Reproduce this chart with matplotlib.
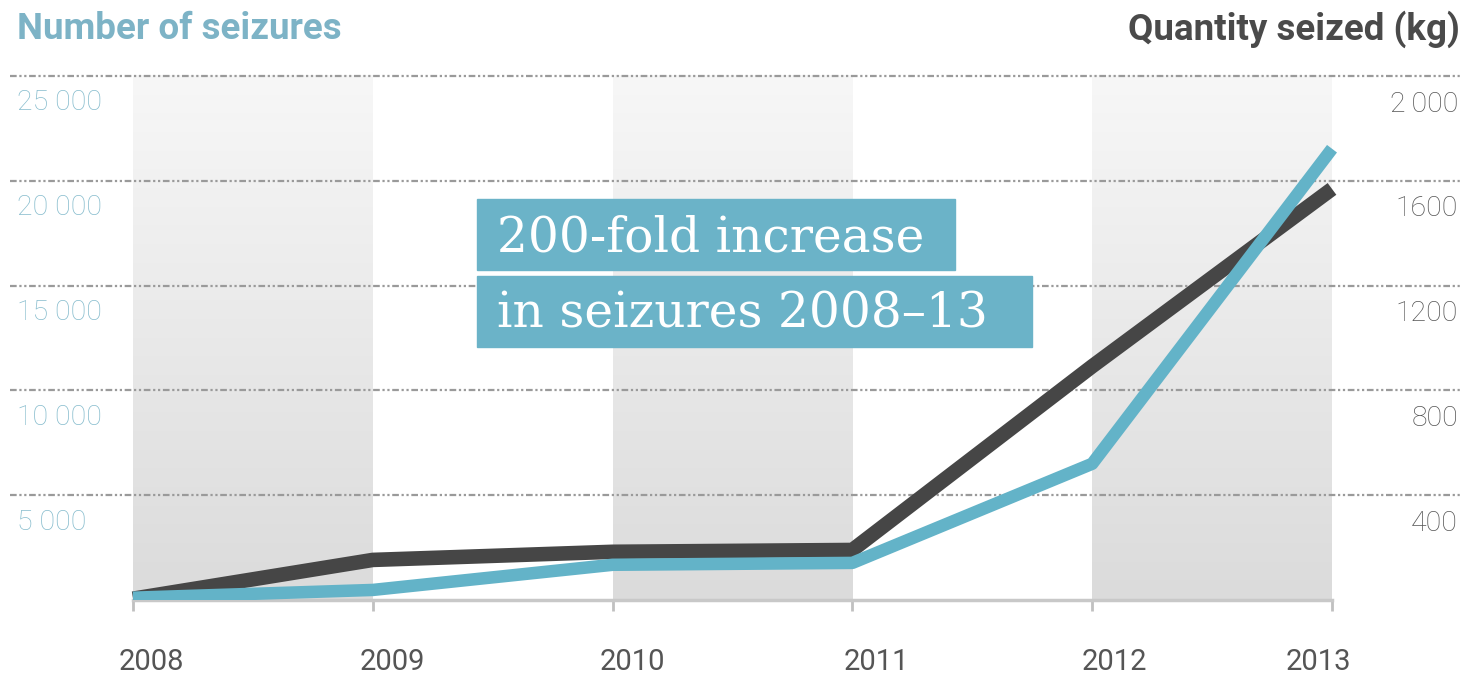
import matplotlib.pyplot as plt
import matplotlib.transforms as mtransforms
from matplotlib.patches import Rectangle
from matplotlib.colors import LinearSegmentedColormap
import numpy as np

# data
years = [2008, 2009, 2010, 2011, 2012, 2013]
seizures = [110, 480, 1680, 1770, 6500, 21530]          # number of seizures (left axis)
quantity_kg = [5, 153, 184, 191, 892, 1569]             # quantity seized in kg (right axis)
left_ticks = [5000, 10000, 15000, 20000, 25000]
left_labels = ['5 000', '10 000', '15 000', '20 000', '25 000']
right_ticks = [400, 800, 1200, 1600, 2000]
right_labels = ['400', '800', '1200', '1600', '2\u2009000']
band_starts = [2008, 2010, 2012]

W, H = 1468, 677
blue = '#63b3c8'
dark = '#464646'
label_blue = '#86bccd'

fig = plt.figure(figsize=(W / 100, H / 100), dpi=100)
fig.patch.set_facecolor('white')

# axes spans full width so the dotted gridlines run edge to edge
ax = fig.add_axes([10 / W, 1 - 600 / H, 1452 / W, 530 / H])
xlim = (2008 - 123 / 239.8, 2013 + 130 / 239.8)
ylim = (0, 25000 * 530 / 524)
ax2 = ax.twinx()

# shaded gradient bands
grad = np.linspace(0, 1, 256).reshape(-1, 1)
cmap = LinearSegmentedColormap.from_list('band', ['#dbdbdb', '#f7f7f7'])
for b in band_starts:
    ax.imshow(grad, extent=(b, b + 1, 0, 25000), origin='lower', cmap=cmap,
              aspect='auto', zorder=0, interpolation='bilinear')
ax.set_xlim(xlim)
ax.set_ylim(ylim)
ax2.set_ylim(ylim[0] * 0.08, ylim[1] * 0.08)

# dotted gridlines
for t in left_ticks:
    ax.axhline(t, color='#9a9a9a', lw=1.6, dashes=(3, 1.2, 1, 1.2, 1, 1.2), zorder=1)

# lines
ax2.plot(years, quantity_kg, color=dark, lw=10.5, solid_capstyle='butt',
         solid_joinstyle='round', zorder=3)
ax2.plot(years, seizures, color=blue, lw=9, solid_capstyle='butt',
         solid_joinstyle='round', zorder=4, transform=ax.transData)

# axes styling
for a in (ax, ax2):
    for s in a.spines.values():
        s.set_visible(False)
    a.set_yticks([])
ax.spines['bottom'].set_visible(True)
ax.spines['bottom'].set_bounds(2008, 2013)
ax.spines['bottom'].set_color('#c8c8c8')
ax.spines['bottom'].set_linewidth(2.5)
ax.set_xticks(years)
ax.set_xticklabels([])
ax.tick_params(axis='x', length=8, width=2, color='#c0c0c0', direction='out')

# y tick labels sit just below their gridlines
ly = mtransforms.offset_copy(ax.get_yaxis_transform(), fig=fig, y=-27, units='dots')
for t, lab in zip(left_ticks, left_labels):
    ax.text(7 / 1452, t, lab, transform=ly, ha='left', va='center',
            fontsize=20.5, color=label_blue, family='Roboto', weight='light')
ry = mtransforms.offset_copy(ax2.get_yaxis_transform(), fig=fig, y=-28, units='dots')
for t, lab in zip(right_ticks, right_labels):
    ax2.text(1448 / 1452, t, lab, transform=ry, ha='right', va='center',
             fontsize=20.5, color='#555555', family='Roboto', weight='light')

# year labels
x_offsets = [18, 20, 20, 24, 22, -14]
for y, dx in zip(years, x_offsets):
    tr = mtransforms.offset_copy(ax.get_xaxis_transform(), fig=fig, x=dx, y=-62, units='dots')
    ax.text(y, 0, str(y), transform=tr, ha='center', va='center',
            fontsize=21, color='#555555', family='Roboto')

# titles
fig.text(17 / W, 1 - 29 / H, 'Number of seizures', ha='left', va='center',
         fontsize=26.5, weight='bold', color='#7db3c6', family='Roboto')
fig.text(1460 / W, 1 - 29 / H, 'Quantity seized (kg)', ha='right', va='center',
         fontsize=26.5, weight='bold', color='#4a4a4a', family='Roboto')

# annotation boxes
box_color = '#6bb3c8'
fig.add_artist(Rectangle((477 / W, 1 - 270 / H), 478 / W, 71 / H,
                         transform=fig.transFigure, color=box_color, zorder=5))
fig.add_artist(Rectangle((477 / W, 1 - 347 / H), 555 / W, 71 / H,
                         transform=fig.transFigure, color=box_color, zorder=5))
fig.text(497 / W, 1 - 238 / H, '200-fold increase', ha='left', va='center',
         fontsize=35, color='white', family='DejaVu Serif', zorder=6)
fig.text(497 / W, 1 - 314 / H, 'in seizures 2008\u201313', ha='left', va='center',
         fontsize=35, color='white', family='DejaVu Serif', zorder=6)

fig.savefig('out.png', dpi=100, facecolor='white')
